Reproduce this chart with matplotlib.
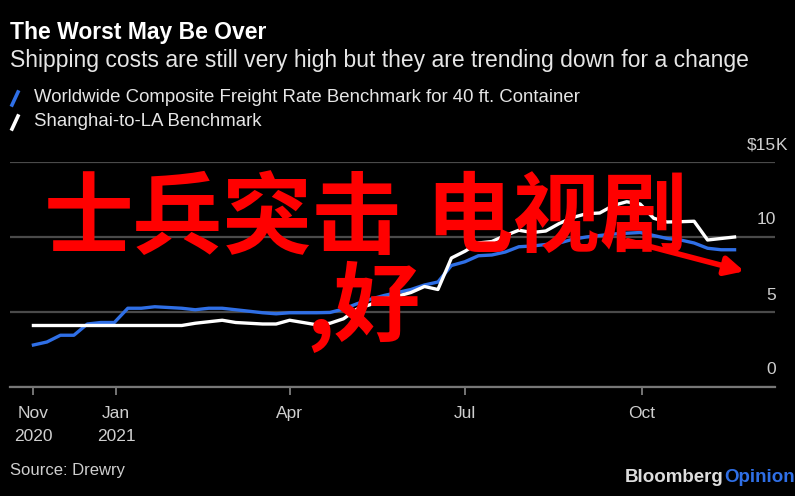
import numpy as np
import pandas as pd
import matplotlib
matplotlib.use("Agg")
import matplotlib.pyplot as plt
from matplotlib.lines import Line2D

plt.rcParams["font.family"] = ["Liberation Sans", "DejaVu Sans"]

W, H = 795, 496

# weekly readings (Thursdays), $ thousands
dates = pd.date_range("2020-11-19", periods=53, freq="7D")
composite = [2.8, 3.0, 3.45, 3.45, 4.2, 4.3, 4.3, 5.25, 5.25, 5.35,
             5.3, 5.25, 5.15, 5.25, 5.25, 5.15, 5.05, 4.95, 4.88, 4.95,
             4.95, 4.95, 4.97, 5.2, 5.55, 5.85, 6.1, 6.3, 6.5, 6.8,
             7.0, 8.1, 8.35, 8.75, 8.8, 9.0, 9.35, 9.4, 9.5, 9.6,
             9.85, 10.0, 10.1, 10.2, 10.25, 10.3, 10.1, 9.9, 9.8, 9.6,
             9.25, 9.15, 9.15]
shanghai_la = [4.1, 4.1, 4.1, 4.1, 4.1, 4.1, 4.1, 4.1, 4.1, 4.1,
               4.1, 4.1, 4.25, 4.35, 4.45, 4.3, 4.25, 4.2, 4.2, 4.45,
               4.3, 4.15, 4.25, 4.55, 5.2, 5.5, 5.9, 6.05, 6.3, 6.7,
               6.5, 8.6, 9.05, 9.6, 9.7, 10.1, 10.45, 10.3, 10.4, 10.9,
               11.3, 11.55, 11.6, 12.1, 12.35, 12.2, 11.25, 11.0, 11.02, 11.05,
               9.8, 9.9, 10.0]

tick_dates = pd.to_datetime(["2020-11-19", "2021-01-01", "2021-04-01", "2021-07-01", "2021-10-01"])
tick_labels = ["Nov\n2020", "Jan\n2021", "Apr", "Jul", "Oct"]
y_ticks = [0, 5, 10, 15]
y_labels = ["0", "5", "10", "$15"]

blue = "#2f6fe6"
grey_text = "#cfcfcf"


def fx(px):
    return px / W


def fy(py):
    return 1 - py / H


fig = plt.figure(figsize=(W / 100, H / 100), dpi=100, facecolor="black")
ax = fig.add_axes([fx(10), fy(387), fx(765), 225 / H])
ax.set_facecolor("black")

ax.plot(dates, composite, color=blue, lw=2.4, zorder=3)
ax.plot(dates, shanghai_la, color="white", lw=2.4, zorder=4)

ax.set_ylim(0, 15)
ax.set_xlim(pd.Timestamp("2020-11-06 20:00"), pd.Timestamp("2021-12-09"))
ax.set_yticks(y_ticks)
ax.yaxis.grid(True, color="#4a4a4a", lw=1.6)
ax.tick_params(axis="y", length=0, labelleft=False)
for s in ["top", "right", "left"]:
    ax.spines[s].set_visible(False)
ax.spines["bottom"].set_color("#777777")
ax.spines["bottom"].set_linewidth(1.6)
ax.spines["bottom"].set_zorder(5)

ax.set_xticks(tick_dates)
ax.set_xticklabels(tick_labels)
ax.tick_params(axis="x", length=6, width=1.2, color="#888888", labelcolor=grey_text,
               labelsize=12.5, pad=8)
for lab in ax.get_xticklabels():
    lab.set_linespacing(1.6)

# value labels sit above the gridlines, right side
for v, lab in zip(y_ticks, y_labels):
    ax.annotate(lab, xy=(1, v), xycoords=("axes fraction", "data"), xytext=(1, 17),
                textcoords="offset pixels", ha="right", va="center", color=grey_text, fontsize=12.5)
ax.annotate("K", xy=(1, 15), xycoords=("axes fraction", "data"), xytext=(1, 17),
            textcoords="offset pixels", ha="left", va="center", color=grey_text, fontsize=12.5)

# header
fig.text(fx(10), fy(33), "The Worst May Be Over", color="white", fontsize=16.5, fontweight="bold", va="center")
fig.text(fx(10), fy(61), "Shipping costs are still very high but they are trending down for a change",
         color="#e6e6e6", fontsize=16.5, va="center")

# legend
fig.add_artist(Line2D([fx(12), fx(18)], [fy(105), fy(92)], color=blue, lw=2.6))
fig.add_artist(Line2D([fx(12), fx(18)], [fy(129), fy(116)], color="white", lw=2.6))
fig.text(fx(34), fy(98), "Worldwide Composite Freight Rate Benchmark for 40 ft. Container",
         color="#e6e6e6", fontsize=13.4, va="center")
fig.text(fx(34), fy(122), "Shanghai-to-LA Benchmark", color="#e6e6e6", fontsize=13.4, va="center")

# footer
fig.text(fx(10), fy(470), "Source: Drewry", color=grey_text, fontsize=12, va="center")
fig.text(fx(724), fy(478), "Bloomberg", color="#dddddd", fontsize=13.5, fontweight="bold", va="center", ha="right")
fig.text(fx(724), fy(478), "Opinion", color=blue, fontsize=13.5, fontweight="bold", va="center", ha="left")

# red overlay text and arrow
cjk = ["Noto Sans CJK SC", "DejaVu Sans"]
fig.text(fx(44), fy(220), "士兵突击", color="#ff0000", fontsize=64.5, fontweight="bold",
         family=cjk, va="center", ha="left")
fig.text(fx(425), fy(220), "电视剧", color="#ff0000", fontsize=63, fontweight="bold",
         family=cjk, va="center", ha="left")
fig.text(fx(306), fy(307), ",好", color="#ff0000", fontsize=62, fontweight="bold",
         family=cjk, va="center", ha="left")
fig.add_artist(matplotlib.patches.FancyArrowPatch(
    (fx(625), fy(240)), (fx(747), fy(272)), transform=fig.transFigure,
    arrowstyle="-|>", mutation_scale=28, color="#ff0000", lw=4, zorder=10))

fig.savefig("out.png", dpi=100, facecolor="black")
